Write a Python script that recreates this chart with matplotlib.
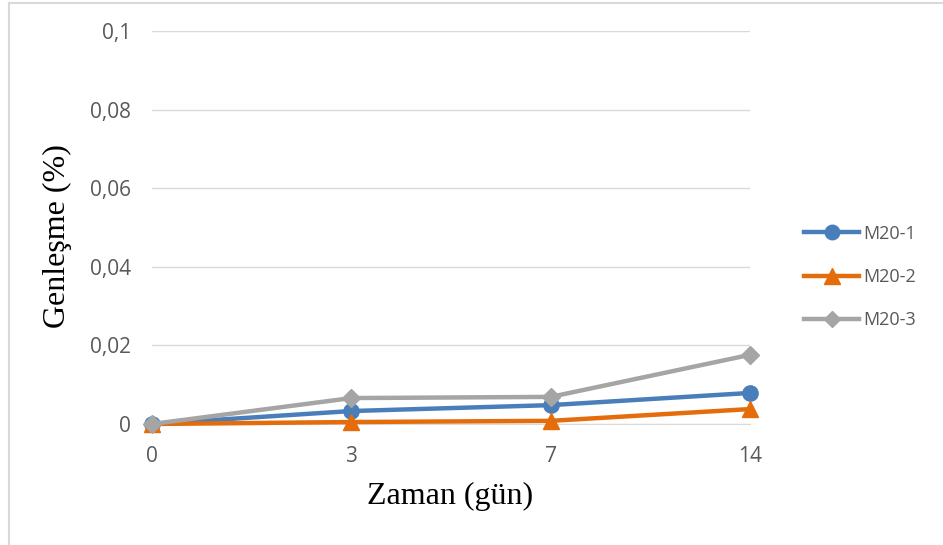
import matplotlib
matplotlib.use("Agg")
import matplotlib.pyplot as plt
from matplotlib.lines import Line2D

categories = ["0", "3", "7", "14"]
m20_1 = [0.0, 0.0033, 0.0048, 0.0079]
m20_2 = [0.0, 0.0005, 0.0008, 0.0038]
m20_3 = [0.0, 0.0066, 0.0069, 0.0176]
yticks = [0, 0.02, 0.04, 0.06, 0.08, 0.1]
ytick_labels = ["0", "0,02", "0,04", "0,06", "0,08", "0,1"]

W, H = 943, 545
fig = plt.figure(figsize=(W / 100, H / 100), dpi=100)
ax = fig.add_axes([152 / W, 1 - 424 / H, (750 - 152) / W, (424 - 31) / H])

x = list(range(len(categories)))
ax.plot(x, m20_1, color="#4a7ebb", lw=3.2, marker="o", ms=11, label="M20-1", zorder=3, clip_on=False)
ax.plot(x, m20_2, color="#e46c0a", lw=3.2, marker="^", ms=12, label="M20-2", zorder=3, clip_on=False)
ax.plot(x, m20_3, color="#a5a5a5", lw=3.2, marker="D", ms=9, label="M20-3", zorder=3, clip_on=False)

ax.set_xlim(0, len(categories) - 1)
ax.set_ylim(0, 0.1)
ax.set_yticks(yticks)
ax.set_yticklabels(ytick_labels)
ax.set_xticks(x)
ax.set_xticklabels(categories)
ax.grid(axis="y", color="#d9d9d9", lw=1)
ax.set_axisbelow(True)
for s in ["top", "right", "left"]:
    ax.spines[s].set_visible(False)
ax.spines["bottom"].set_color("#d9d9d9")
ax.tick_params(length=0, labelsize=15, colors="#595959")
for lab in ax.get_xticklabels() + ax.get_yticklabels():
    lab.set_fontfamily("Open Sans")
ax.tick_params(axis="y", pad=15)
ax.tick_params(axis="x", pad=16)

fig.text(450 / W, 1 - 496 / H, "Zaman (gün)", fontfamily="Liberation Serif", fontsize=23,
         color="black", ha="center", va="center")
fig.text(57 / W, 1 - 236 / H, "Genleşme (%)", fontfamily="Liberation Serif", fontsize=23,
         color="black", ha="center", va="center", rotation=90)

leg = fig.legend(loc="center left", bbox_to_anchor=(788 / W, 1 - 277 / H), frameon=False,
                 prop={"family": "Open Sans", "size": 13}, labelspacing=1.4,
                 handlelength=3.05, handletextpad=0.2, markerscale=0.95)
for t in leg.get_texts():
    t.set_color("#595959")

# figure border
fig.add_artist(Line2D([9 / W, 9 / W], [0, 1 - 3 / H], color="#d9d9d9", lw=1.5))
fig.add_artist(Line2D([9 / W, 1], [1 - 3 / H, 1 - 3 / H], color="#d9d9d9", lw=1.5))

fig.savefig("out.png", dpi=100)
